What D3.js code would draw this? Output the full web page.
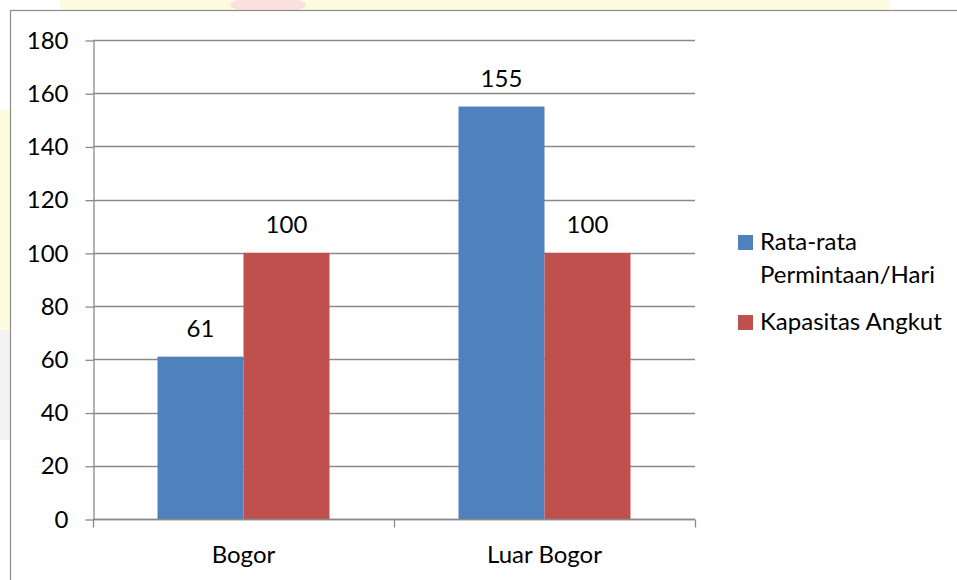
<!DOCTYPE html>
<html>
<head>
<meta charset="utf-8">
<script src="https://cdn.jsdelivr.net/npm/d3@7/dist/d3.min.js"></script>
<style>
  html, body { margin: 0; padding: 0; background: #ffffff; }
  svg { display: block; }
  text { font-family: Lato, "Open Sans", sans-serif; fill: #000; }
</style>
</head>
<body>
<svg id="chart" width="957" height="580"></svg>
<script>
const categories = ["Bogor", "Luar Bogor"];
const seriesNames = ["Rata-rata Permintaan/Hari", "Kapasitas Angkut"];
const legendLines = [["Rata-rata", "Permintaan/Hari"], ["Kapasitas Angkut"]];
const demand = [61, 155];
const capacity = [100, 100];
const yTicks = [0, 20, 40, 60, 80, 100, 120, 140, 160, 180];
const colors = ["#4f81bd", "#c0504d"];

const W = 957, H = 580;
const plot = { left: 93, right: 695, top: 40, bottom: 519 };
const fontSize = 24;

const svg = d3.select("#chart");

// watermark-like background outside the chart box
const bg = svg.append("g");
bg.append("rect").attr("x", 0).attr("y", 0).attr("width", W).attr("height", H).attr("fill", "#ffffff");
bg.append("rect").attr("x", 60).attr("y", 0).attr("width", 830).attr("height", 10).attr("fill", "#fdfce0");
bg.append("ellipse").attr("cx", 268).attr("cy", 5).attr("rx", 38).attr("ry", 8).attr("fill", "#fbe0e0");
bg.append("rect").attr("x", 0).attr("y", 110).attr("width", 10).attr("height", 220).attr("fill", "#fdfcdc");
bg.append("rect").attr("x", 0).attr("y", 330).attr("width", 10).attr("height", 110).attr("fill", "#f3f3f3");

// chart box
svg.append("rect").attr("x", 10.5).attr("y", 10.5).attr("width", W).attr("height", H)
  .attr("fill", "#ffffff").attr("stroke", "#8c8c8c").attr("stroke-width", 1.2);

const y = d3.scaleLinear().domain([0, 180]).range([plot.bottom, plot.top]);
const x0 = d3.scaleBand().domain(categories).range([plot.left, plot.right]).paddingInner(0).paddingOuter(0);
const x1 = d3.scaleBand().domain(seriesNames).range([0, x0.bandwidth()]).paddingInner(0).paddingOuter(0.75);

// gridlines
svg.append("g").selectAll("line").data(yTicks).join("line")
  .attr("x1", plot.left).attr("x2", plot.right)
  .attr("y1", d => Math.round(y(d)) + 0.5).attr("y2", d => Math.round(y(d)) + 0.5)
  .attr("stroke", "#8a8a8a").attr("stroke-width", 1.3);

// y axis
const yAxis = d3.axisLeft(y).tickValues(yTicks).tickSize(8).tickPadding(17).tickSizeOuter(0);
const gy = svg.append("g").attr("transform", `translate(${plot.left + 0.5},0.5)`).call(yAxis);
gy.select(".domain").attr("stroke", "#8a8a8a").attr("stroke-width", 1.3);
gy.selectAll(".tick line").attr("stroke", "#8a8a8a").attr("stroke-width", 1.3);
gy.selectAll(".tick text").attr("font-size", fontSize).attr("font-family", "Lato, 'Open Sans', sans-serif").attr("fill", "#000");

// bars
const data = categories.map((c, i) => ({ cat: c, vals: [demand[i], capacity[i]] }));
const groups = svg.append("g").selectAll("g").data(data).join("g")
  .attr("transform", d => `translate(${x0(d.cat)},0)`);
groups.selectAll("rect").data(d => d.vals.map((v, j) => ({ v, s: seriesNames[j], j }))).join("rect")
  .attr("x", d => x1(d.s)).attr("width", x1.bandwidth())
  .attr("y", d => y(d.v)).attr("height", d => y(0) - y(d.v))
  .attr("fill", d => colors[d.j]);
groups.selectAll("text").data(d => d.vals.map((v, j) => ({ v, s: seriesNames[j], j }))).join("text")
  .attr("x", d => x1(d.s) + x1.bandwidth() / 2)
  .attr("y", d => y(d.v) - 20)
  .attr("text-anchor", "middle").attr("font-size", fontSize)
  .text(d => d.v);

// x axis
const xb = [plot.left, ...categories.map(c => x0(c) + x0.bandwidth())];
svg.append("line").attr("x1", plot.left).attr("x2", plot.right)
  .attr("y1", Math.round(y(0)) + 0.5).attr("y2", Math.round(y(0)) + 0.5)
  .attr("stroke", "#8a8a8a").attr("stroke-width", 1.3);
svg.append("g").selectAll("line").data(xb).join("line")
  .attr("x1", d => Math.round(d) + 0.5).attr("x2", d => Math.round(d) + 0.5)
  .attr("y1", Math.round(y(0)) + 0.5).attr("y2", Math.round(y(0)) + 8.5)
  .attr("stroke", "#8a8a8a").attr("stroke-width", 1.3);
svg.append("g").selectAll("text").data(categories).join("text")
  .attr("x", d => x0(d) + x0.bandwidth() / 2)
  .attr("y", 563)
  .attr("text-anchor", "middle").attr("font-size", fontSize)
  .text(d => d);

// legend
const leg = svg.append("g");
const legY = [235, 315];
seriesNames.forEach((s, i) => {
  leg.append("rect").attr("x", 738).attr("y", legY[i]).attr("width", 15).attr("height", 15).attr("fill", colors[i]);
  legendLines[i].forEach((line, k) => {
    leg.append("text").attr("x", 760).attr("y", legY[i] + 15 + k * 33)
      .attr("font-size", fontSize).text(line);
  });
});
</script>
</body>
</html>
